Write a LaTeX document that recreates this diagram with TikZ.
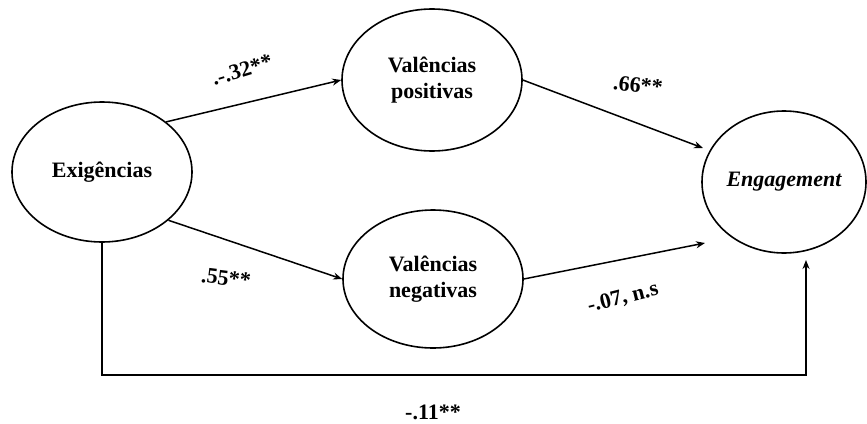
\documentclass[tikz,border=0pt]{standalone}
\usepackage{fontspec}
\setmainfont{Liberation Serif}
\usetikzlibrary{shapes.geometric,arrows.meta}
\begin{document}
\begin{tikzpicture}[x=1pt,y=-1pt,
  lat/.style={draw,line width=1.6pt,ellipse,minimum width=#1,align=center,font=\fontsize{22}{26}\selectfont\bfseries,inner sep=0pt},
  conn/.style={line width=1.5pt},
  arr/.style={conn,-{Stealth[length=9pt,width=7pt]}},
  coef/.style={font=\fontsize{22}{25}\selectfont\bfseries,inner sep=0pt}]
\useasboundingbox (0,0) rectangle (867,423);
\node[lat=180pt,minimum height=140pt] (ex) at (102,172) {Exigências};
\node[lat=180pt,minimum height=142pt] (pos) at (432,80) {Valências\\positivas};
\node[lat=180pt,minimum height=138pt] (neg) at (433,279) {Valências\\negativas};
\node[lat=164pt,minimum height=142pt] (eng) at (784,182) {\itshape Engagement};
\coordinate (e1) at (703,148);
\coordinate (e2) at (705,243);
\coordinate (e3) at (806,260);
\coordinate (c1) at (102,375);
\coordinate (c2) at (806,375);
\draw[arr] (ex.38) -- (pos.west);
\draw[arr] (ex.-36) -- (neg.west);
\draw[arr] (pos.east) -- (e1);
\draw[arr] (neg.east) -- (e2);
\draw[arr] (ex.south) -- (c1) -- (c2) -- (e3);
\node[coef,rotate=17] (l1) at (242,70) {.-.32**};
\node[coef,rotate=-6] (l2) at (638,85) {.66**};
\node[coef,rotate=-7] (l3) at (226,278) {.55**};
\node[coef,rotate=14] (l4) at (623,298) {-.07, n.s};
\node[coef] (l5) at (433,412) {-.11**};
\end{tikzpicture}
\end{document}
